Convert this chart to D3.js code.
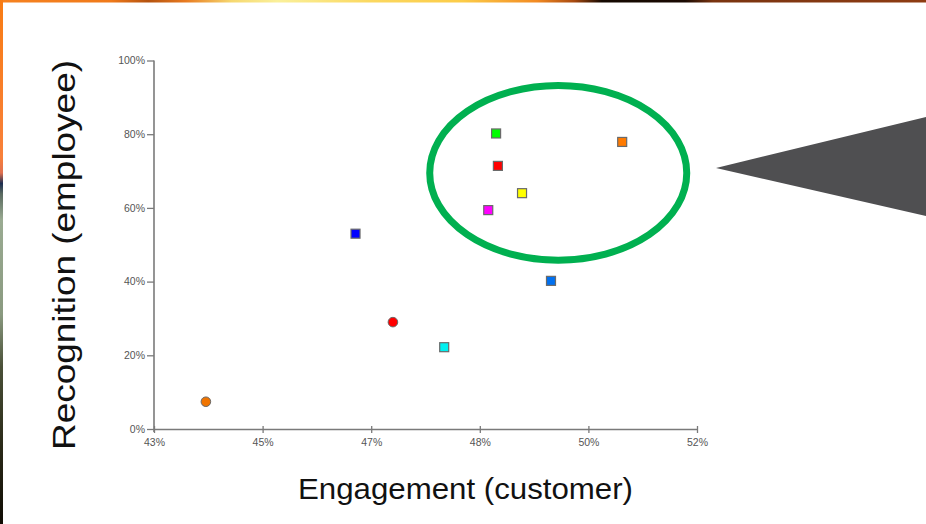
<!DOCTYPE html>
<html>
<head>
<meta charset="utf-8">
<script src="https://cdn.jsdelivr.net/npm/d3@7"></script>
<style>
  html, body { margin: 0; padding: 0; background: #fff; }
  #chart { width: 926px; height: 524px; overflow: hidden; }
  .tick text { font-family: "Liberation Sans", Arial, sans-serif; }
</style>
</head>
<body>
<div id="chart"></div>
<script>
// data
const pointNames  = ["A", "B", "C", "D", "E", "F", "G", "H", "I", "J"];
const engagement  = [43.86, 46.34, 46.96, 47.81, 48.54, 48.67, 48.70, 49.10, 49.58, 50.76];
const recognition = [7.4, 53.0, 29.0, 22.2, 59.4, 80.2, 71.4, 64.0, 40.2, 77.9];
const pointShape  = ["circle", "square", "circle", "square", "square", "square", "square", "square", "square", "square"];
const pointColor  = ["#f07400", "#0000ff", "#ff0000", "#00f0f0", "#ff00ff", "#00ff00", "#ff0000", "#ffff00", "#0070f0", "#ff7a00"];

const xTickValues = [43, 44.8, 46.6, 48.4, 50.2, 52];
const xTickLabels = ["43%", "45%", "47%", "48%", "50%", "52%"];
const yTickValues = [0, 20, 40, 60, 80, 100];
const yTickLabels = ["0%", "20%", "40%", "60%", "80%", "100%"];

// highlight ellipse in data units: center x, center y, radius x, radius y
const highlightEllipse = [49.70, 69.5, 2.13, 23.7];

const W = 926, H = 524;
const m = { top: 60.5, left: 154, right: W - 697, bottom: H - 429 };

const svg = d3.select("#chart").append("svg").attr("width", W).attr("height", H);
const defs = svg.append("defs");

// slide frame (top and left strips)
const topGrad = defs.append("linearGradient").attr("id", "topGrad");
[[0, "#f68220"], [0.12, "#f07a1a"], [0.16, "#b4520f"], [0.2, "#e87a20"], [0.25, "#f6d870"],
 [0.3, "#faf09a"], [0.4, "#fbd860"], [0.5, "#fccc48"], [0.58, "#f28a22"], [0.62, "#a84a10"],
 [0.65, "#140800"], [0.74, "#1a0a02"], [0.77, "#7a3410"], [1, "#8e3c12"]]
  .forEach(([o, c]) => topGrad.append("stop").attr("offset", o).attr("stop-color", c));

const leftGrad = defs.append("linearGradient").attr("id", "leftGrad")
  .attr("x1", 0).attr("y1", 0).attr("x2", 0).attr("y2", 1);
[[0, "#f87c14"], [0.3, "#f8803a"], [0.33, "#e07050"], [0.35, "#1c2e50"], [0.37, "#5a6a60"],
 [0.42, "#9aab92"], [0.6, "#8a9a80"], [0.7, "#4a5038"], [0.85, "#2a2a18"], [1, "#100c04"]]
  .forEach(([o, c]) => leftGrad.append("stop").attr("offset", o).attr("stop-color", c));

svg.append("rect").attr("x", 0).attr("y", 0).attr("width", W).attr("height", 2.5).attr("fill", "url(#topGrad)");
svg.append("rect").attr("x", 0).attr("y", 0).attr("width", 3).attr("height", H).attr("fill", "url(#leftGrad)");

// scales
const x = d3.scaleLinear().domain([43, 52]).range([m.left, W - m.right]);
const y = d3.scaleLinear().domain([0, 100]).range([H - m.bottom, m.top]);

// axes
const axisColor = "#7a7a7a";
const xAxis = svg.append("g")
  .attr("transform", `translate(0,${H - m.bottom})`)
  .call(d3.axisBottom(x).tickValues(xTickValues).tickFormat((d, i) => xTickLabels[i])
    .tickSizeInner(4).tickSizeOuter(0).tickPadding(6));
const yAxis = svg.append("g")
  .attr("transform", `translate(${m.left},0)`)
  .call(d3.axisLeft(y).tickValues(yTickValues).tickFormat((d, i) => yTickLabels[i])
    .tickSizeInner(7).tickSizeOuter(0).tickPadding(2));

[xAxis, yAxis].forEach(a => {
  a.select(".domain").attr("stroke", axisColor).attr("stroke-width", 1.6);
  a.selectAll(".tick line").attr("stroke", axisColor).attr("stroke-width", 1.3);
  a.selectAll(".tick text").attr("fill", "#555").style("font-size", "10.5px");
});
xAxis.selectAll(".tick line").attr("y1", -3);
// y axis runs a little below the x axis
yAxis.select(".domain").attr("d", `M0,${y(100)}V${y(0) + 3}`);

// axis titles
svg.append("text")
  .attr("x", 298).attr("y", 499)
  .attr("textLength", 335).attr("lengthAdjust", "spacingAndGlyphs")
  .style("font-family", "Liberation Sans, Arial, sans-serif")
  .style("font-size", "29px").attr("fill", "#111")
  .text("Engagement (customer)");

svg.append("text")
  .attr("transform", "translate(75,450) rotate(-90)")
  .attr("textLength", 390).attr("lengthAdjust", "spacingAndGlyphs")
  .style("font-family", "Liberation Sans, Arial, sans-serif")
  .style("font-size", "31px").attr("fill", "#111")
  .text("Recognition (employee)");

// points
const pts = pointNames.map((n, i) => ({
  name: n, x: engagement[i], y: recognition[i], shape: pointShape[i], color: pointColor[i]
}));

const marks = svg.append("g");
marks.selectAll("rect")
  .data(pts.filter(d => d.shape === "square"))
  .join("rect")
  .attr("x", d => x(d.x) - 4.5).attr("y", d => y(d.y) - 4.5)
  .attr("width", 9).attr("height", 9)
  .attr("fill", d => d.color)
  .attr("stroke", "#6a6a6a").attr("stroke-width", 1.2);

marks.selectAll("circle")
  .data(pts.filter(d => d.shape === "circle"))
  .join("circle")
  .attr("cx", d => x(d.x)).attr("cy", d => y(d.y))
  .attr("r", 4.8)
  .attr("fill", d => d.color)
  .attr("stroke", "#6a6a6a").attr("stroke-width", 1);

// highlight ellipse
const [ecx, ecy, erx, ery] = highlightEllipse;
svg.append("ellipse")
  .attr("cx", x(ecx)).attr("cy", y(ecy))
  .attr("rx", x(ecx + erx) - x(ecx)).attr("ry", y(ecy - ery) - y(ecy))
  .attr("fill", "none")
  .attr("stroke", "#00b050").attr("stroke-width", 7);

// callout arrow
svg.append("path")
  .attr("d", "M716,168L926,117L926,216Z")
  .attr("fill", "#4f4f51");
</script>
</body>
</html>
